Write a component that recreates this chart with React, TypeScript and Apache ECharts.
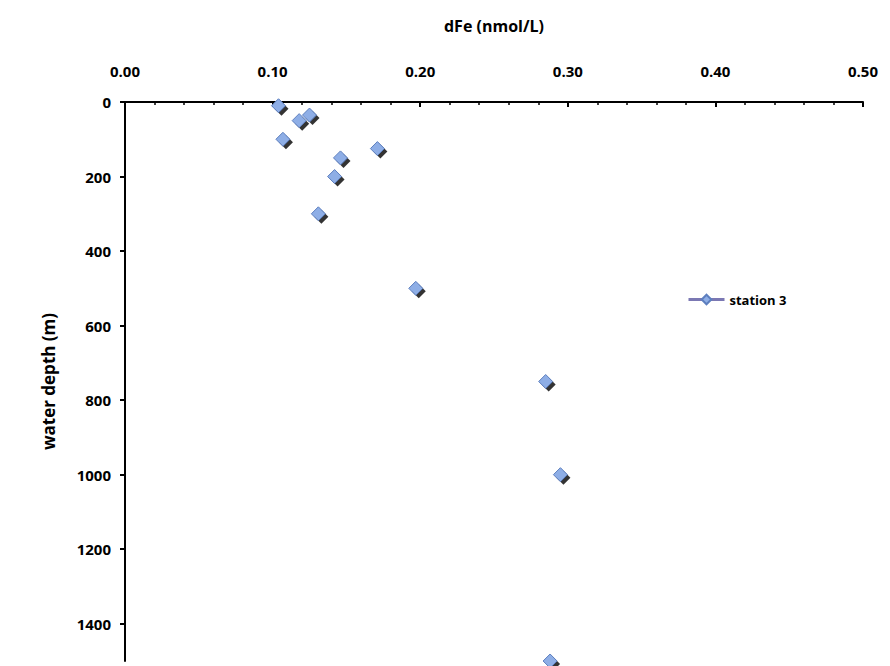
import React, { useEffect, useRef } from "react";
import * as echarts from "echarts";

const dFe = [0.104, 0.107, 0.118, 0.125, 0.146, 0.171, 0.142, 0.131, 0.197, 0.285, 0.295, 0.288];
const depth = [10, 100, 50, 35, 150, 125, 200, 300, 500, 750, 1000, 1500];
const seriesName = "station 3";

export default function App() {
  const ref = useRef<HTMLDivElement>(null);
  useEffect(() => {
    const chart = echarts.init(ref.current!, null, { renderer: "svg" });
    const data = dFe.map((x, i) => [x, depth[i]]);
    const font = { fontFamily: "Open Sans", fontWeight: "bold" as const, fontSize: 15, color: "#000" };
    chart.setOption({
      animation: false,
      grid: { left: 117, right: 19, top: 94, bottom: 5, containLabel: false },
      xAxis: {
        type: "value", position: "top", min: 0, max: 0.5, interval: 0.1,
        name: "dFe (nmol/L)", nameLocation: "middle", nameGap: 68,
        nameTextStyle: { ...font, fontSize: 16 },
        axisLabel: { ...font, formatter: (v: number) => v.toFixed(2), margin: 24 },
        axisLine: { lineStyle: { color: "#000", width: 2 } },
        axisTick: { inside: true, length: 5, lineStyle: { color: "#000", width: 2 } },
        minorTick: { show: true, splitNumber: 5, length: 3, lineStyle: { color: "#000", width: 1.5 } },
        splitLine: { show: false },
      },
      yAxis: {
        type: "value", inverse: true, min: 0, max: 1500, interval: 200,
        name: "water depth (m)", nameLocation: "middle", nameGap: 68,
        nameTextStyle: { ...font, fontSize: 17 },
        axisLabel: { ...font, margin: 14, showMaxLabel: false, formatter: (v: number) => String(v) },
        axisLine: { lineStyle: { color: "#000", width: 2 } },
        axisTick: { length: 5, lineStyle: { color: "#000", width: 2 } },
        splitLine: { show: false },
      },
      legend: {
        data: [seriesName], left: 674, top: 280, orient: "vertical",
        itemWidth: 36, itemHeight: 12, textStyle: { ...font, fontSize: 13 },
        lineStyle: { color: "#7b78b3", width: 3, opacity: 1 },
      },
      series: [
        {
          type: "scatter", data, symbol: "diamond", symbolSize: 14, symbolOffset: [3, 3],
          itemStyle: { color: "#000" }, silent: true, z: 1,
        },
        {
          name: seriesName, type: "line", data, symbol: "diamond", symbolSize: 14,
          lineStyle: { opacity: 0 }, z: 2,
          itemStyle: { color: "#8eaee6", borderColor: "#5d7fbf", borderWidth: 1 },
        },
      ],
    });
    return () => chart.dispose();
  }, []);
  return <div ref={ref} style={{ width: 874, height: 658 }} />;
}
